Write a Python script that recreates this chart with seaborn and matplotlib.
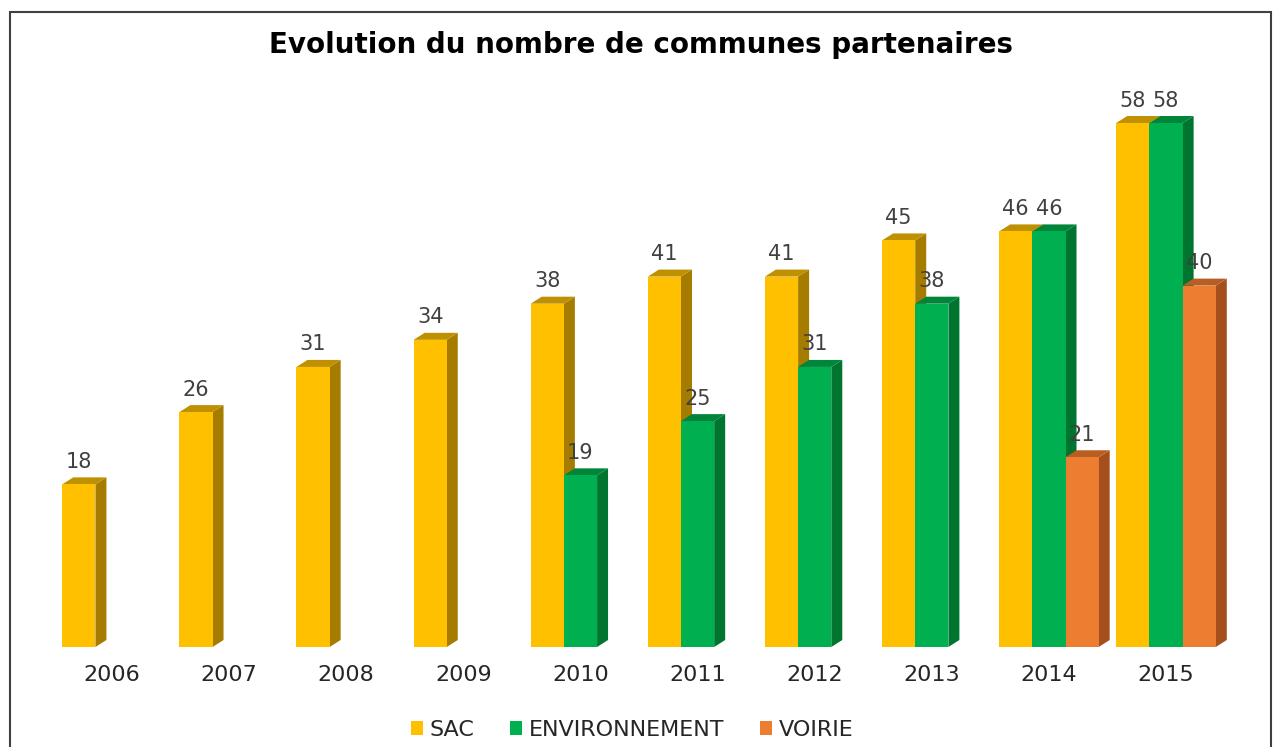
import pandas as pd
import matplotlib.pyplot as plt
import seaborn as sns
from matplotlib.patches import Polygon, Rectangle

# Données
years = ['2006', '2007', '2008', '2009', '2010', '2011', '2012', '2013', '2014', '2015']
sac = [18, 26, 31, 34, 38, 41, 41, 45, 46, 58]
environnement = [None, None, None, None, 19, 25, 31, 38, 46, 58]
voirie = [None, None, None, None, None, None, None, None, 21, 40]

series = ['SAC', 'ENVIRONNEMENT', 'VOIRIE']
colors = ['#FFC000', '#00B050', '#ED7D31']
side_colors = ['#A67C00', '#00752F', '#A5501C']
top_colors = ['#BF9000', '#00853A', '#B85E22']

rows = []
for name, vals in zip(series, [sac, environnement, voirie]):
    for y, v in zip(years, vals):
        if v is not None:
            rows.append({'annee': y, 'serie': name, 'valeur': v})
df = pd.DataFrame(rows)

sns.set_style('white')
plt.rcParams['font.family'] = ['DejaVu Sans']

fig = plt.figure(figsize=(12.74, 7.47), dpi=100)
ax = fig.add_axes([40 / 1274, 100 / 747, 1210 / 1274, 567 / 747])

sns.barplot(data=df, x='annee', y='valeur', hue='serie', order=years,
            hue_order=series, palette=colors, width=0.85, linewidth=0,
            saturation=1, errorbar=None, ax=ax, legend=True)

ax.set_xlim(-0.615, 9.717)
ax.set_ylim(0, 62.76)

# effet 3D : faces latérales et supérieures
dx = 11 / 117.1
dy = 7 / 9.03
for h_idx, cont in enumerate(ax.containers):
    for bar in cont:
        x0 = bar.get_x()
        x1 = x0 + bar.get_width()
        h = bar.get_height()
        if not h or h != h:
            continue
        bar.set_zorder(2 + h_idx * 0.3 + 0.2)
        side = Polygon([(x1, 0), (x1 + dx, dy), (x1 + dx, h + dy), (x1, h)],
                       closed=True, facecolor=side_colors[h_idx], edgecolor='none',
                       zorder=2 + h_idx * 0.3 + 0.1)
        top = Polygon([(x0, h), (x1, h), (x1 + dx, h + dy), (x0 + dx, h + dy)],
                      closed=True, facecolor=top_colors[h_idx], edgecolor='none',
                      zorder=2 + h_idx * 0.3 + 0.1)
        ax.add_patch(side)
        ax.add_patch(top)
    ax.bar_label(cont, padding=9, fontsize=15, color='#404040', zorder=5)

sns.despine(ax=ax, left=True, bottom=True)
ax.set_yticks([])
ax.set_xlabel('')
ax.set_ylabel('')
ax.tick_params(axis='x', length=0, pad=13, labelsize=16, labelcolor='#262626')

handles, labels = ax.get_legend_handles_labels()
ax.get_legend().remove()
fig.legend(handles, labels, loc='center', bbox_to_anchor=(632 / 1274, 1 - 730 / 747),
           ncol=3, frameon=False, fontsize=16, handlelength=0.55, handleheight=0.55,
           handletextpad=0.3, columnspacing=1.6)

fig.text(641 / 1274, 1 - 45 / 747, 'Evolution du nombre de communes partenaires',
         ha='center', va='center', fontsize=20, fontweight='bold', color='#000000')

# cadre du graphique
fig.patches.append(Rectangle((10 / 1274, -0.05), 1261 / 1274, 1.05 - 12 / 747,
                             transform=fig.transFigure, fill=False,
                             edgecolor='#404040', linewidth=1.5))

fig.savefig('out.png', dpi=100)
